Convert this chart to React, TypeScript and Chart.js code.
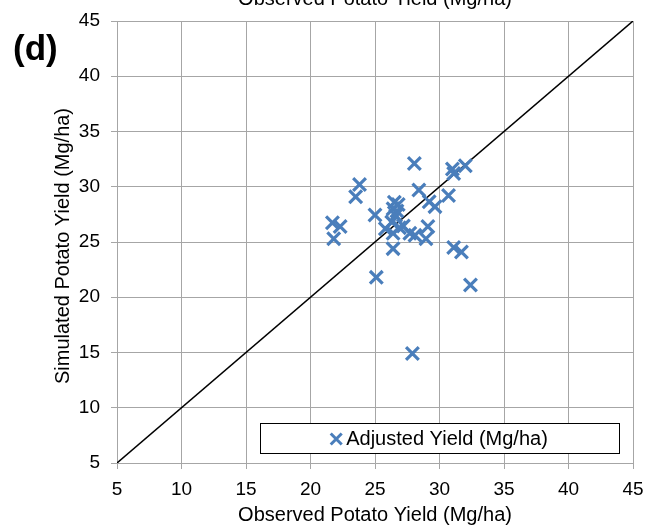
import React, { useEffect, useRef } from "react";
import { Chart, registerables } from "chart.js";

Chart.register(...registerables);

const observed = [28.05, 31.0, 32.0, 31.1, 23.8, 23.5, 28.4, 30.7, 29.2, 29.65, 26.5, 26.8, 26.4, 26.7, 26.6, 25.0, 21.7, 22.3, 21.8, 25.8, 26.3, 27.2, 26.4, 27.7, 28.1, 29.1, 28.95, 26.4, 31.1, 31.7, 25.1, 32.4, 27.9, 26.9];
const simulated = [32.1, 31.6, 31.9, 31.2, 30.2, 29.1, 29.7, 29.2, 28.65, 28.2, 28.6, 28.4, 28.0, 27.8, 27.4, 27.45, 26.75, 26.4, 25.3, 26.2, 26.8, 26.45, 25.8, 25.8, 25.6, 26.4, 25.3, 24.4, 24.5, 24.1, 21.8, 21.1, 14.9, 26.3];
const oneToOne = [5, 45];
const axisMin = 5;
const axisMax = 45;
const tickStep = 5;
const seriesLabel = "Adjusted Yield (Mg/ha)";
const xTitle = "Observed Potato Yield (Mg/ha)";
const yTitle = "Simulated Potato Yield (Mg/ha)";
const panelLabel = "(d)";

const FONT = "'Liberation Sans', Arial, sans-serif";
const BLUE = "#4a7ebb";
const GRID = "#a6a6a6";

export default function App() {
  const ref = useRef<HTMLCanvasElement>(null);
  useEffect(() => {
    document.body.style.margin = "0";
    const canvas = ref.current!;
    const extras = {
      id: "extras",
      afterDraw(chart: any) {
        const ctx = chart.ctx;
        const area = chart.chartArea;
        const cx = (area.left + area.right) / 2;
        const cyArea = (area.top + area.bottom) / 2;
        ctx.save();
        ctx.fillStyle = "#000";
        ctx.font = `20px ${FONT}`;
        // cut-off top title
        ctx.textAlign = "center";
        ctx.textBaseline = "alphabetic";
        ctx.fillText(xTitle, cx, 5);
        // x axis title
        ctx.textBaseline = "middle";
        ctx.fillText(xTitle, cx, 515);
        // y axis title
        ctx.save();
        ctx.translate(63, cyArea + 4);
        ctx.rotate(-Math.PI / 2);
        ctx.fillText(yTitle, 0, 0);
        ctx.restore();
        // panel label
        ctx.font = `bold 35px ${FONT}`;
        ctx.textAlign = "left";
        ctx.textBaseline = "middle";
        ctx.fillText(panelLabel, 13, 50);
        // legend box
        const lx = 260, ly = 423, lw = 359, lh = 30;
        ctx.fillStyle = "#fff";
        ctx.fillRect(lx, ly, lw, lh);
        ctx.strokeStyle = "#000";
        ctx.lineWidth = 1;
        ctx.strokeRect(lx + 0.5, ly + 0.5, lw, lh);
        ctx.font = `20px ${FONT}`;
        ctx.textBaseline = "middle";
        const tw = ctx.measureText(seriesLabel).width;
        const total = 17 + tw;
        const sx = lx + (lw - total) / 2 + 6;
        const cy = ly + lh / 2 + 1;
        ctx.strokeStyle = BLUE;
        ctx.lineWidth = 3;
        ctx.beginPath();
        ctx.moveTo(sx - 5.5, cy - 5.5);
        ctx.lineTo(sx + 5.5, cy + 5.5);
        ctx.moveTo(sx + 5.5, cy - 5.5);
        ctx.lineTo(sx - 5.5, cy + 5.5);
        ctx.stroke();
        ctx.fillStyle = "#000";
        ctx.fillText(seriesLabel, sx + 10, cy);
        ctx.restore();
      },
    };
    const chart = new Chart(canvas, {
      type: "scatter",
      data: {
        datasets: [
          {
            label: seriesLabel,
            data: observed.map((x, i) => ({ x, y: simulated[i] })),
            pointStyle: "crossRot",
            pointRadius: 9,
            pointBorderWidth: 3.2,
            pointBorderColor: BLUE,
            pointBackgroundColor: BLUE,
            showLine: false,
            order: 1,
          },
          {
            label: "1:1",
            data: oneToOne.map((v) => ({ x: v, y: v })),
            showLine: true,
            borderColor: "#000",
            borderWidth: 1.5,
            pointRadius: 0,
            order: 2,
          },
        ],
      },
      options: {
        responsive: false,
        animation: false,
        layout: { padding: { top: 21, right: 13, left: 0, bottom: 0 } },
        plugins: { legend: { display: false }, tooltip: { enabled: false } },
        scales: {
          x: {
            type: "linear",
            min: axisMin,
            max: axisMax,
            ticks: { stepSize: tickStep, color: "#000", font: { family: FONT, size: 19 }, padding: 9 },
            grid: { color: GRID, lineWidth: 1, tickLength: 6 },
            border: { color: GRID, width: 1 },
            afterFit: (s: any) => { s.height = 63; s.paddingRight = 0; s.paddingLeft = 0; },
          },
          y: {
            type: "linear",
            min: axisMin,
            max: axisMax,
            ticks: { stepSize: tickStep, color: "#000", font: { family: FONT, size: 19 }, padding: 11 },
            grid: { color: GRID, lineWidth: 1, tickLength: 6 },
            border: { color: GRID, width: 1 },
            afterFit: (s: any) => { s.width = 117; s.paddingTop = 0; s.paddingBottom = 0; },
          },
        },
      },
      plugins: [extras],
    });
    return () => chart.destroy();
  }, []);
  return <canvas ref={ref} width={646} height={526} style={{ display: "block" }} />;
}
